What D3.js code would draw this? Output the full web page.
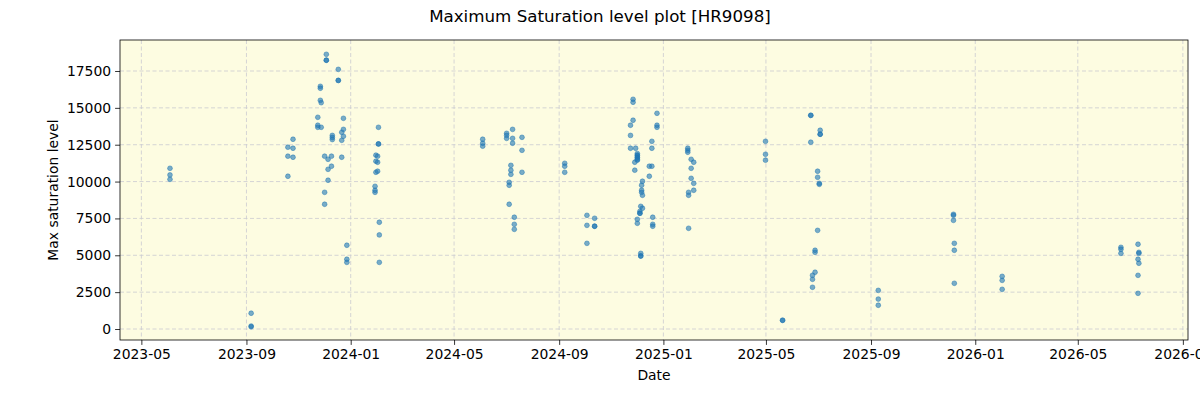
<!DOCTYPE html>
<html>
<head>
<meta charset="utf-8">
<script src="https://cdn.jsdelivr.net/npm/d3@7"></script>
<style>
  body { margin: 0; background: #ffffff; }
  svg text { font-family: "DejaVu Sans", sans-serif; fill: #000; }
</style>
</head>
<body>
<div id="chart"></div>
<script>
// observation dates and the max saturation values read on each date
const obsDates = [
    "2023-06-03", "2023-09-06", "2023-10-19", "2023-10-25", "2023-11-23", "2023-11-26", "2023-11-27",
    "2023-12-01", "2023-12-03", "2023-12-05", "2023-12-09", "2023-12-10", "2023-12-17", "2023-12-21",
    "2023-12-23", "2023-12-27", "2024-01-29", "2024-01-30", "2024-02-01", "2024-02-02", "2024-02-03",
    "2024-06-03", "2024-07-01", "2024-07-04", "2024-07-06", "2024-07-08", "2024-07-10", "2024-07-19",
    "2024-09-07", "2024-10-03", "2024-10-12", "2024-11-23", "2024-11-26", "2024-11-28", "2024-11-29",
    "2024-12-01", "2024-12-04", "2024-12-05", "2024-12-06", "2024-12-07", "2024-12-15", "2024-12-18",
    "2024-12-19", "2024-12-24", "2025-01-29", "2025-01-30", "2025-02-02", "2025-02-05", "2025-04-30",
    "2025-05-20", "2025-06-22", "2025-06-24", "2025-06-27", "2025-06-30", "2025-07-02", "2025-07-03",
    "2025-09-09", "2025-12-06", "2025-12-07", "2026-02-01", "2026-06-20", "2026-07-10", "2026-07-11"
];
const satValues = [
    [10900, 10450, 10150], [1070, 200, 150], [12330, 11720, 10360], [12870, 12260, 11650],
    [14360, 13820, 13680], [16460, 16330, 15510], [15350, 13680],
    [11720, 9270, 8460], [18630, 18230, 18230], [11510, 10830, 10090], [11720, 11040],
    [13130, 12990, 12850], [17610, 16860, 16860], [13340, 12800, 11650],
    [14290, 13540, 13070], [5680, 4730, 4520], [9680, 9410, 9270], [11790, 11380, 10630],
    [11720, 11310, 10700], [13680, 12550, 12550], [7240, 6380, 4520],
    [12870, 12600, 12400], [13270, 13130, 12930], [9950, 9750, 8460], [11100, 10770, 10490],
    [13540, 12930, 12600], [7580, 7100, 6760], [13000, 12120, 10630],
    [11240, 11040, 10630], [7710, 7030, 5810], [7510, 6970, 6970], [13820, 13130, 12260],
    [15580, 15380, 14160], [11310, 10770], [12260],
    [11900, 11800, 11750, 11650, 11600, 11500, 11450, 7440, 7170], [7980, 7850, 7850],
    [8320, 5130, 4950, 4950], [9750, 9410, 9270], [10020, 9070, 8190], [11040, 10360],
    [12730, 12260, 11040], [7580, 7100, 6970], [14630, 13820, 13680],
    [12260, 12120, 11990], [9270, 9070, 6830], [11510, 10900, 10220], [11310, 9880, 9410],
    [12730, 11850, 11450], [590, 590], [14490, 14490, 12670], [3640, 3370, 2830],
    [5340, 5200, 3850], [10700, 10290, 6690], [9880, 9810], [13480, 13210, 13210],
    [2620, 2030, 1610], [7780, 7710, 7370], [5810, 5340, 3100], [3570, 3300, 2690],
    [5540, 5410, 5130], [5750, 4730, 3640, 2420], [5200, 5130, 4460]
];
const yTicks = [0, 2500, 5000, 7500, 10000, 12500, 15000, 17500];
const xTicks = ["2023-05", "2023-09", "2024-01", "2024-05", "2024-09", "2025-01",
    "2025-05", "2025-09", "2026-01", "2026-05", "2026-09"];

const points = [];
obsDates.forEach((d, i) => {
    satValues[i].forEach(v => points.push({ date: new Date(d + "T12:00:00Z"), value: v }));
});

const W = 1200, H = 400;
const margin = { top: 40, right: 12, bottom: 60, left: 120 };
const width = W - margin.left - margin.right;
const height = H - margin.top - margin.bottom;

const svg = d3.select("#chart").append("svg")
    .attr("width", W)
    .attr("height", H);

svg.append("text")
    .attr("x", W / 2)
    .attr("y", 22)
    .attr("text-anchor", "middle")
    .style("font-size", "16.7px")
    .text("Maximum Saturation level plot [HR9098]");

const g = svg.append("g")
    .attr("transform", `translate(${margin.left},${margin.top})`);

const x = d3.scaleUtc()
    .domain([new Date("2023-04-06T00:00:00Z"), new Date("2026-09-07T00:00:00Z")])
    .range([0, width]);
const y = d3.scaleLinear()
    .domain([-746, 19602])
    .range([height, 0]);

const xTickDates = xTicks.map(t => new Date(t + "-01T00:00:00Z"));

g.append("rect")
    .attr("width", width)
    .attr("height", height)
    .attr("fill", "#fdfce1");

// grid
g.append("g")
    .selectAll("line")
    .data(xTickDates)
    .enter().append("line")
    .attr("x1", d => x(d)).attr("x2", d => x(d))
    .attr("y1", 0).attr("y2", height)
    .attr("stroke", "#cacad0")
    .attr("stroke-width", 0.8)
    .attr("stroke-dasharray", "4,2.5");
g.append("g")
    .selectAll("line")
    .data(yTicks)
    .enter().append("line")
    .attr("x1", 0).attr("x2", width)
    .attr("y1", d => y(d)).attr("y2", d => y(d))
    .attr("stroke", "#cacad0")
    .attr("stroke-width", 0.8)
    .attr("stroke-dasharray", "4,2.5");

g.selectAll(".dot")
    .data(points)
    .enter().append("circle")
    .attr("class", "dot")
    .attr("cx", d => x(d.date))
    .attr("cy", d => y(d.value))
    .attr("r", 2.4)
    .attr("fill", "#1f77b4")
    .attr("fill-opacity", 0.6)
    .attr("stroke", "#1f77b4")
    .attr("stroke-opacity", 0.6)
    .attr("stroke-width", 0.8);

const xAxis = g.append("g")
    .attr("transform", `translate(0,${height})`)
    .call(d3.axisBottom(x).tickValues(xTickDates).tickFormat(d3.utcFormat("%Y-%m")).tickSizeOuter(0).tickSize(4.9).tickPadding(4));
const yAxis = g.append("g")
    .call(d3.axisLeft(y).tickValues(yTicks).tickFormat(d3.format("d")).tickSizeOuter(0).tickSize(4.9).tickPadding(4));
[xAxis, yAxis].forEach(a => {
    a.select(".domain").remove();
    a.selectAll("text").style("font-size", "13.9px").style("font-family", "DejaVu Sans, sans-serif");
    a.selectAll("line").attr("stroke", "#000").attr("stroke-width", 0.8);
});

g.append("rect")
    .attr("width", width)
    .attr("height", height)
    .attr("fill", "none")
    .attr("stroke", "#000")
    .attr("stroke-width", 0.8);

svg.append("text")
    .attr("x", margin.left + width / 2)
    .attr("y", 380)
    .attr("text-anchor", "middle")
    .style("font-size", "13.9px")
    .text("Date");

svg.append("text")
    .attr("transform", "rotate(-90)")
    .attr("x", -(margin.top + height / 2))
    .attr("y", 58)
    .attr("text-anchor", "middle")
    .style("font-size", "13.9px")
    .text("Max saturation level");
</script>
</body>
</html>
